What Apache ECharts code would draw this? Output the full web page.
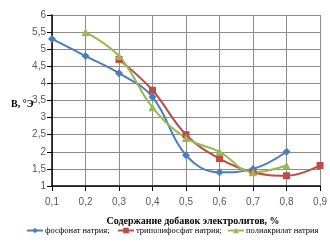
<!DOCTYPE html>
<html><head><meta charset="utf-8">
<script src="https://cdn.jsdelivr.net/npm/echarts@6/dist/echarts.min.js"></script>
<style>html,body{margin:0;padding:0;background:#fff}#c{width:330px;height:246px}</style>
</head><body><div id="c"></div>
<script>
const categories = ['0,1','0,2','0,3','0,4','0,5','0,6','0,7','0,8','0,9'];
const fosfonat = [5.3, 4.8, 4.3, 3.6, 1.9, 1.4, 1.5, 2.0, null];
const tripolifosfat = [null, null, 4.7, 3.8, 2.5, 1.8, 1.4, 1.3, 1.6];
const poliakrilat = [null, 5.5, 4.8, 3.3, 2.4, 2.0, 1.4, 1.6, null];
const seriesNames = ['фосфонат натрия;', 'триполифосфат натрия;', 'полиакрилат натрия'];
const xTitle = 'Содержание добавок электролитов, %';
const yTitle = 'В, °Э';

const chart = echarts.init(document.getElementById('c'), null, {renderer:'canvas'});
const narrow = 'Liberation Sans Narrow, Arial Narrow, sans-serif';
const serif = 'Liberation Serif, Times New Roman, serif';
function mk(name, data, color, symbol, size){
  return {name, type:'line', data, smooth:0.4, connectNulls:false, symbol, symbolSize:size,
    lineStyle:{color, width:2}, itemStyle:{color}, showSymbol:true};
}
const legendLefts = [26, 117, 227];
chart.setOption({
  animation:false,
  grid:{left:52, right:5, top:15, bottom:60},
  title:[
    {text:xTitle, left:188, top:211, textAlign:'center', textStyle:{fontFamily:serif, fontWeight:'bold', fontSize:10, color:'#000'}},
    {text:yTitle, left:6, top:94, textStyle:{fontFamily:serif, fontWeight:'bold', fontSize:10, color:'#000'}}
  ],
  legend: seriesNames.map((n,i)=>({top:226, left:legendLefts[i], padding:0, itemWidth:16, itemHeight:7,
    textStyle:{fontFamily:serif, fontSize:8.5, color:'#000', padding:[0,0,0,-3]}, data:[n]})),
  xAxis:{type:'category', data:categories, boundaryGap:false,
    axisLine:{lineStyle:{color:'#000', width:1.5}},
    axisTick:{show:true, lineStyle:{color:'#000'}},
    axisLabel:{fontFamily:narrow, fontSize:10, color:'#595959', margin:11},
    splitLine:{show:true, lineStyle:{color:'#8c8c8c', width:1}}},
  yAxis:{type:'value', min:1, max:6, interval:0.5,
    axisLine:{show:true, lineStyle:{color:'#000', width:1.5}},
    axisTick:{show:true, lineStyle:{color:'#000'}},
    axisLabel:{fontFamily:narrow, fontSize:10, color:'#595959', margin:6,
      formatter:v=>String(v).replace('.',',')},
    splitLine:{show:true, lineStyle:{color:'#8c8c8c', width:1}}},
  series:[
    mk(seriesNames[0], fosfonat, '#4a7ebb', 'diamond', 8),
    mk(seriesNames[1], tripolifosfat, '#be4b48', 'rect', 7),
    mk(seriesNames[2], poliakrilat, '#98b954', 'triangle', 8)
  ]
});
</script></body></html>
